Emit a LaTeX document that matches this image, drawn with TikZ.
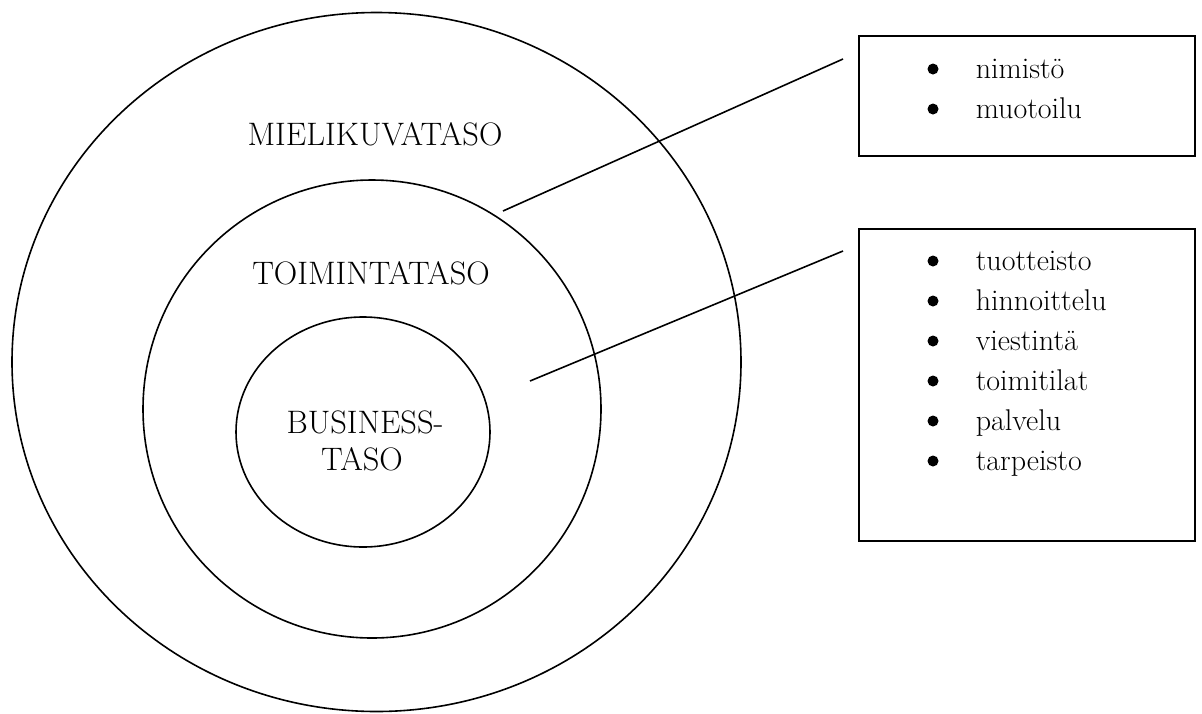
\documentclass[tikz,border=0pt]{standalone}
\usepackage{fontspec}
\begin{document}
\begin{tikzpicture}[x=1pt,y=-1pt,line width=1.6pt,
  lbl/.style={inner sep=0pt,anchor=base,font=\fontsize{32.5}{38}\selectfont},
  item/.style={inner sep=0pt,anchor=base west,font=\fontsize{30}{36}\selectfont},
  listbox/.style={draw,anchor=north west,minimum width=336pt,inner sep=0pt},
  dot/.style={circle,fill,inner sep=0pt,minimum size=11pt}]
\useasboundingbox (0,0) rectangle (1202,713);
\clip (0,0) rectangle (1202,713);
% rings
\draw (376.5,362) ellipse [x radius=364.5pt,y radius=349.5pt];
\draw (372,409) circle [radius=229pt];
\draw (363,432) ellipse [x radius=127pt,y radius=115pt];
% ring labels
\node[lbl] (mk) at (375,145) {MIELIKUVATASO};
\node[lbl] (tt) at (371,284) {TOIMINTATASO};
\node[lbl] (bt1) at (365,433) {BUSINESS-};
\node[lbl] (bt2) at (362,470) {TASO};
% boxes
\node[listbox,minimum height=120pt] (box1) at (858,35) {};
\node[listbox,minimum height=312pt] (box2) at (858,228) {};
% box 1 items
\node[dot] (d1) at (933,69) {};
\node[item] (i1) at (975,78) {nimistö};
\node[dot] (d2) at (933,109) {};
\node[item] (i2) at (975,118) {muotoilu};
% box 2 items
\node[dot] (d3) at (933,261) {};
\node[item] (i3) at (975,270) {tuotteisto};
\node[dot] (d4) at (933,301) {};
\node[item] (i4) at (975,310) {hinnoittelu};
\node[dot] (d5) at (933,341) {};
\node[item] (i5) at (975,350) {viestintä};
\node[dot] (d6) at (933,381) {};
\node[item] (i6) at (975,390) {toimitilat};
\node[dot] (d7) at (933,421) {};
\node[item] (i7) at (975,430) {palvelu};
\node[dot] (d8) at (933,461) {};
\node[item] (i8) at (975,470) {tarpeisto};
% connectors
\coordinate (s1) at (503,211);
\coordinate (e1) at (843,59);
\coordinate (s2) at (530,381);
\coordinate (e2) at (843,251);
\draw (s1) -- (e1);
\draw (s2) -- (e2);
\end{tikzpicture}
\end{document}
